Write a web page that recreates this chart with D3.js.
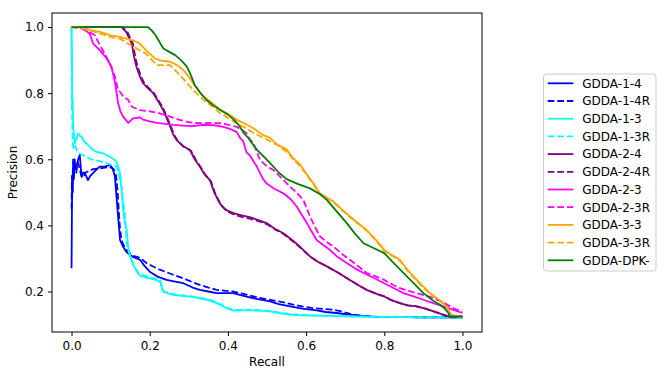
<!DOCTYPE html>
<html>
<head>
<meta charset="utf-8">
<script src="https://cdn.jsdelivr.net/npm/d3@7"></script>
<style>
  body { margin: 0; background: #fff; }
  svg { font-family: "DejaVu Sans", sans-serif; }
</style>
</head>
<body>
<svg width="665" height="378"></svg>
<script>
// precision / recall pairs: [recall, precision]
var gdda14 = [[0,0.27],[0.001,0.45],[0.002,0.55],[0.003,0.5],[0.004,0.58],[0.006,0.54],[0.008,0.6],[0.01,0.57],[0.013,0.578],[0.017,0.6],[0.021,0.613],[0.024,0.57],[0.026,0.547],[0.03,0.56],[0.034,0.558],[0.042,0.537],[0.048,0.55],[0.055,0.558],[0.065,0.57],[0.072,0.578],[0.085,0.578],[0.098,0.583],[0.105,0.573],[0.111,0.547],[0.115,0.487],[0.119,0.427],[0.122,0.386],[0.124,0.356],[0.132,0.335],[0.14,0.32],[0.149,0.311],[0.16,0.303],[0.175,0.296],[0.185,0.28],[0.2,0.26],[0.22,0.245],[0.243,0.235],[0.265,0.23],[0.286,0.225],[0.31,0.212],[0.328,0.205],[0.35,0.2],[0.371,0.195],[0.414,0.195],[0.435,0.188],[0.456,0.182],[0.48,0.176],[0.508,0.17],[0.53,0.162],[0.559,0.155],[0.59,0.148],[0.627,0.143],[0.65,0.138],[0.678,0.135],[0.71,0.13],[0.738,0.127],[0.77,0.124],[0.8,0.123],[0.9,0.122],[1.0,0.122]];
var gdda14r = [[0,0.45],[0.001,0.55],[0.002,0.5],[0.004,0.6],[0.006,0.55],[0.009,0.58],[0.012,0.56],[0.016,0.59],[0.02,0.575],[0.025,0.55],[0.03,0.545],[0.036,0.56],[0.045,0.565],[0.055,0.57],[0.07,0.572],[0.085,0.575],[0.098,0.577],[0.108,0.57],[0.114,0.55],[0.118,0.5],[0.121,0.44],[0.124,0.39],[0.128,0.355],[0.135,0.335],[0.145,0.32],[0.158,0.308],[0.175,0.302],[0.192,0.286],[0.21,0.275],[0.226,0.266],[0.255,0.253],[0.286,0.24],[0.31,0.228],[0.328,0.22],[0.35,0.212],[0.371,0.205],[0.414,0.2],[0.435,0.194],[0.456,0.188],[0.48,0.181],[0.508,0.175],[0.54,0.168],[0.567,0.16],[0.59,0.155],[0.618,0.15],[0.645,0.147],[0.67,0.145],[0.69,0.14],[0.704,0.135],[0.72,0.13],[0.738,0.127],[0.77,0.124],[0.8,0.123],[0.9,0.122],[1.0,0.122]];
var gdda13 = [[0,1],[0.0005,0.9],[0.001,0.95],[0.0015,0.82],[0.002,0.75],[0.003,0.78],[0.004,0.7],[0.005,0.688],[0.008,0.648],[0.012,0.66],[0.017,0.678],[0.022,0.67],[0.026,0.668],[0.032,0.655],[0.038,0.648],[0.045,0.64],[0.055,0.628],[0.065,0.622],[0.081,0.618],[0.09,0.612],[0.098,0.608],[0.108,0.6],[0.115,0.593],[0.12,0.575],[0.124,0.558],[0.128,0.507],[0.132,0.447],[0.136,0.41],[0.141,0.386],[0.145,0.336],[0.149,0.31],[0.158,0.28],[0.167,0.26],[0.175,0.248],[0.19,0.242],[0.2,0.24],[0.215,0.235],[0.226,0.23],[0.23,0.215],[0.234,0.2],[0.245,0.195],[0.26,0.19],[0.28,0.187],[0.303,0.185],[0.325,0.18],[0.346,0.175],[0.365,0.168],[0.38,0.16],[0.4,0.148],[0.414,0.142],[0.435,0.143],[0.456,0.143],[0.48,0.142],[0.508,0.14],[0.53,0.135],[0.559,0.13],[0.59,0.128],[0.627,0.127],[0.67,0.126],[0.712,0.125],[0.76,0.124],[0.8,0.123],[0.9,0.122],[1.0,0.122]];
var gdda13r = [[0,1],[0.0005,0.85],[0.001,0.78],[0.002,0.7],[0.003,0.66],[0.004,0.64],[0.006,0.63],[0.01,0.64],[0.015,0.62],[0.025,0.615],[0.038,0.608],[0.05,0.6],[0.07,0.595],[0.09,0.588],[0.105,0.582],[0.115,0.578],[0.122,0.55],[0.128,0.517],[0.132,0.47],[0.136,0.437],[0.139,0.39],[0.141,0.346],[0.145,0.325],[0.152,0.3],[0.16,0.275],[0.17,0.258],[0.18,0.25],[0.2,0.244],[0.226,0.234],[0.232,0.215],[0.236,0.2],[0.245,0.197],[0.26,0.192],[0.28,0.189],[0.303,0.186],[0.325,0.182],[0.346,0.177],[0.365,0.17],[0.38,0.162],[0.4,0.15],[0.414,0.144],[0.456,0.145],[0.508,0.141],[0.559,0.131],[0.627,0.127],[0.712,0.125],[0.8,0.123],[0.9,0.122],[1.0,0.122]];
var gdda24 = [[0,1],[0.128,1],[0.14,0.985],[0.154,0.95],[0.16,0.91],[0.166,0.88],[0.175,0.85],[0.183,0.83],[0.195,0.815],[0.209,0.8],[0.222,0.775],[0.234,0.75],[0.243,0.725],[0.252,0.7],[0.26,0.675],[0.269,0.658],[0.285,0.64],[0.303,0.628],[0.315,0.6],[0.328,0.578],[0.34,0.555],[0.354,0.537],[0.365,0.5],[0.38,0.465],[0.395,0.447],[0.414,0.437],[0.435,0.43],[0.456,0.425],[0.48,0.415],[0.499,0.407],[0.52,0.39],[0.542,0.376],[0.565,0.355],[0.584,0.336],[0.61,0.306],[0.63,0.29],[0.653,0.276],[0.68,0.258],[0.712,0.235],[0.735,0.218],[0.755,0.205],[0.78,0.193],[0.8,0.185],[0.82,0.173],[0.84,0.165],[0.86,0.158],[0.883,0.155],[0.905,0.148],[0.926,0.14],[0.95,0.13],[0.968,0.123],[1.0,0.125]];
var gdda24r = [[0,1],[0.13,1],[0.143,0.985],[0.157,0.95],[0.163,0.91],[0.169,0.88],[0.178,0.85],[0.186,0.83],[0.198,0.815],[0.211,0.8],[0.224,0.775],[0.236,0.75],[0.245,0.725],[0.254,0.7],[0.262,0.675],[0.272,0.655],[0.288,0.637],[0.306,0.625],[0.318,0.598],[0.331,0.575],[0.343,0.552],[0.357,0.532],[0.368,0.495],[0.383,0.46],[0.398,0.442],[0.417,0.432],[0.438,0.425],[0.458,0.42],[0.48,0.412],[0.499,0.404],[0.52,0.388],[0.542,0.374],[0.565,0.353],[0.584,0.334],[0.61,0.306],[0.63,0.29],[0.653,0.276],[0.68,0.258],[0.712,0.235],[0.735,0.218],[0.755,0.205],[0.78,0.193],[0.8,0.185],[0.82,0.173],[0.84,0.165],[0.86,0.158],[0.883,0.155],[0.905,0.148],[0.926,0.14],[0.95,0.13],[0.968,0.123],[1.0,0.125]];
var gdda23 = [[0,1],[0.02,1],[0.035,0.99],[0.047,0.98],[0.055,0.95],[0.072,0.93],[0.09,0.905],[0.102,0.88],[0.108,0.85],[0.113,0.82],[0.119,0.77],[0.125,0.745],[0.132,0.729],[0.145,0.71],[0.158,0.724],[0.175,0.727],[0.183,0.72],[0.2,0.715],[0.218,0.71],[0.24,0.707],[0.26,0.704],[0.285,0.702],[0.311,0.7],[0.337,0.704],[0.363,0.703],[0.388,0.698],[0.405,0.692],[0.422,0.683],[0.431,0.665],[0.439,0.655],[0.448,0.62],[0.456,0.612],[0.474,0.578],[0.49,0.54],[0.499,0.527],[0.52,0.51],[0.542,0.497],[0.56,0.48],[0.576,0.457],[0.59,0.43],[0.602,0.407],[0.615,0.38],[0.627,0.356],[0.645,0.34],[0.661,0.326],[0.68,0.305],[0.704,0.286],[0.725,0.27],[0.747,0.256],[0.775,0.24],[0.8,0.225],[0.825,0.21],[0.849,0.195],[0.875,0.185],[0.9,0.175],[0.925,0.165],[0.951,0.155],[0.975,0.145],[1.0,0.135]];
var gdda23r = [[0,1],[0.03,0.995],[0.045,0.985],[0.06,0.975],[0.068,0.955],[0.08,0.93],[0.098,0.89],[0.111,0.85],[0.119,0.81],[0.124,0.804],[0.132,0.79],[0.145,0.78],[0.154,0.759],[0.175,0.749],[0.2,0.745],[0.226,0.739],[0.25,0.73],[0.277,0.719],[0.3,0.712],[0.328,0.709],[0.355,0.71],[0.38,0.709],[0.4,0.705],[0.422,0.698],[0.435,0.69],[0.448,0.678],[0.456,0.66],[0.465,0.65],[0.482,0.598],[0.5,0.578],[0.516,0.568],[0.54,0.54],[0.559,0.517],[0.575,0.5],[0.593,0.477],[0.61,0.427],[0.623,0.395],[0.636,0.366],[0.653,0.35],[0.67,0.336],[0.69,0.315],[0.712,0.296],[0.735,0.275],[0.755,0.256],[0.78,0.245],[0.8,0.235],[0.82,0.222],[0.84,0.21],[0.86,0.203],[0.883,0.195],[0.905,0.188],[0.926,0.18],[0.95,0.168],[0.968,0.155],[0.985,0.145],[1.0,0.14]];
var gdda33 = [[0,1],[0.03,1],[0.05,0.99],[0.075,0.985],[0.1,0.975],[0.124,0.97],[0.157,0.96],[0.175,0.95],[0.19,0.93],[0.213,0.905],[0.23,0.898],[0.252,0.895],[0.27,0.885],[0.286,0.87],[0.3,0.85],[0.311,0.83],[0.337,0.79],[0.36,0.77],[0.38,0.75],[0.4,0.738],[0.422,0.72],[0.448,0.705],[0.465,0.694],[0.49,0.673],[0.508,0.665],[0.525,0.645],[0.55,0.63],[0.567,0.603],[0.584,0.585],[0.6,0.558],[0.62,0.525],[0.635,0.497],[0.67,0.472],[0.69,0.45],[0.712,0.427],[0.735,0.405],[0.755,0.386],[0.78,0.355],[0.8,0.326],[0.82,0.31],[0.84,0.296],[0.86,0.265],[0.883,0.235],[0.9,0.215],[0.917,0.195],[0.935,0.18],[0.951,0.165],[0.962,0.15],[0.968,0.135],[0.975,0.128],[1.0,0.125]];
var gdda33r = [[0,1],[0.03,0.995],[0.06,0.985],[0.1,0.97],[0.124,0.965],[0.158,0.94],[0.19,0.92],[0.218,0.885],[0.252,0.885],[0.277,0.855],[0.311,0.81],[0.337,0.78],[0.36,0.76],[0.38,0.74],[0.4,0.725],[0.422,0.709],[0.445,0.695],[0.465,0.68],[0.49,0.665],[0.508,0.655],[0.53,0.64],[0.55,0.623],[0.567,0.6],[0.584,0.58],[0.6,0.555],[0.62,0.522],[0.635,0.495],[0.67,0.47],[0.69,0.448],[0.712,0.425],[0.735,0.403],[0.755,0.384],[0.78,0.352],[0.8,0.323],[0.82,0.308],[0.84,0.293],[0.86,0.262],[0.883,0.232],[0.9,0.212],[0.917,0.193],[0.935,0.178],[0.951,0.163],[0.962,0.148],[0.968,0.133],[0.975,0.127],[1.0,0.125]];
var gddaDpk = [[0,1],[0.195,1],[0.205,0.99],[0.215,0.975],[0.225,0.955],[0.235,0.935],[0.25,0.925],[0.265,0.915],[0.28,0.9],[0.295,0.88],[0.305,0.855],[0.315,0.825],[0.33,0.8],[0.345,0.78],[0.36,0.765],[0.38,0.75],[0.4,0.735],[0.415,0.72],[0.43,0.7],[0.44,0.68],[0.452,0.665],[0.473,0.63],[0.49,0.61],[0.508,0.588],[0.53,0.56],[0.55,0.54],[0.58,0.525],[0.61,0.512],[0.635,0.495],[0.653,0.477],[0.68,0.44],[0.704,0.407],[0.725,0.375],[0.747,0.346],[0.775,0.33],[0.8,0.316],[0.825,0.285],[0.849,0.256],[0.875,0.225],[0.9,0.195],[0.925,0.172],[0.943,0.16],[0.955,0.148],[0.964,0.135],[0.968,0.125],[1.0,0.125]];

var names = ["GDDA-1-4","GDDA-1-4R","GDDA-1-3","GDDA-1-3R","GDDA-2-4","GDDA-2-4R","GDDA-2-3","GDDA-2-3R","GDDA-3-3","GDDA-3-3R","GDDA-DPK-"];
var values = [gdda14, gdda14r, gdda13, gdda13r, gdda24, gdda24r, gdda23, gdda23r, gdda33, gdda33r, gddaDpk];
var colors = ["blue","blue","cyan","cyan","purple","purple","magenta","magenta","orange","orange","green"];
var dashed = [false,true,false,true,false,true,false,true,false,true,false];
var xTicks = [0, 0.2, 0.4, 0.6, 0.8, 1.0];
var yTicks = [0.2, 0.4, 0.6, 0.8, 1.0];

var svg = d3.select("svg"),
    margin = {top: 13, right: 183, bottom: 46, left: 52},
    width = +svg.attr("width") - margin.left - margin.right,
    height = +svg.attr("height") - margin.top - margin.bottom;

var x = d3.scaleLinear().domain([-0.05, 1.05]).range([0, width]);
var y = d3.scaleLinear().domain([0.0775, 1.0425]).range([height, 0]);

var chart = svg.append("g")
    .attr("transform", "translate(" + margin.left + "," + margin.top + ")");

var line = d3.line()
    .x(function(d) { return x(d[0]); })
    .y(function(d) { return y(d[1]); });

var series = names.map(function(n, i) {
    return {name: n, values: values[i], color: colors[i], dashed: dashed[i]};
});

chart.selectAll(".curve")
    .data(series)
    .enter()
    .append("path")
    .attr("class", "curve")
    .attr("d", function(d) { return line(d.values); })
    .attr("fill", "none")
    .attr("stroke", function(d) { return d.color; })
    .attr("stroke-width", 1.8)
    .attr("stroke-linejoin", "round")
    .attr("stroke-dasharray", function(d) { return d.dashed ? "6.7,2.9" : null; });

// axes
var xAxis = chart.append("g")
    .attr("transform", "translate(0," + height + ")")
    .call(d3.axisBottom(x).tickValues(xTicks).tickFormat(d3.format(".1f")).tickSize(4).tickPadding(5.5));
var yAxis = chart.append("g")
    .call(d3.axisLeft(y).tickValues(yTicks).tickFormat(d3.format(".1f")).tickSize(4).tickPadding(4));

[xAxis, yAxis].forEach(function(a) {
    a.select(".domain").remove();
    a.selectAll("text").attr("font-size", "12px").attr("font-family", "DejaVu Sans").attr("fill", "#000");
    a.selectAll("line").attr("stroke", "#000");
});

chart.append("rect")
    .attr("width", width)
    .attr("height", height)
    .attr("fill", "none")
    .attr("stroke", "#000")
    .attr("stroke-width", 1);

// axis labels
chart.append("text")
    .attr("x", width / 2)
    .attr("y", height + 33.5)
    .attr("text-anchor", "middle")
    .style("font-size", "12px")
    .text("Recall");

chart.append("text")
    .attr("transform", "translate(" + (17 - margin.left) + "," + (height / 2) + ")rotate(-90)")
    .attr("text-anchor", "middle")
    .style("font-size", "12px")
    .text("Precision");

// legend
var legend = svg.append("g").attr("transform", "translate(543.5,74)");
legend.append("rect")
    .attr("width", 112.5)
    .attr("height", 197)
    .attr("rx", 3)
    .attr("fill", "#fff")
    .attr("stroke", "#cccccc")
    .attr("stroke-width", 1);

var items = legend.selectAll(".item")
    .data(series)
    .enter()
    .append("g")
    .attr("class", "item")
    .attr("transform", function(d, i) { return "translate(0," + (9.3 + i * 17.7) + ")"; });

items.append("line")
    .attr("x1", 4.2)
    .attr("x2", 29.8)
    .attr("stroke", function(d) { return d.color; })
    .attr("stroke-width", 1.8)
    .attr("stroke-dasharray", function(d) { return d.dashed ? "6.7,2.9" : null; });

items.append("text")
    .attr("x", 38.8)
    .attr("dy", "0.36em")
    .style("font-size", "12px")
    .text(function(d) { return d.name; });
</script>
</body>
</html>
